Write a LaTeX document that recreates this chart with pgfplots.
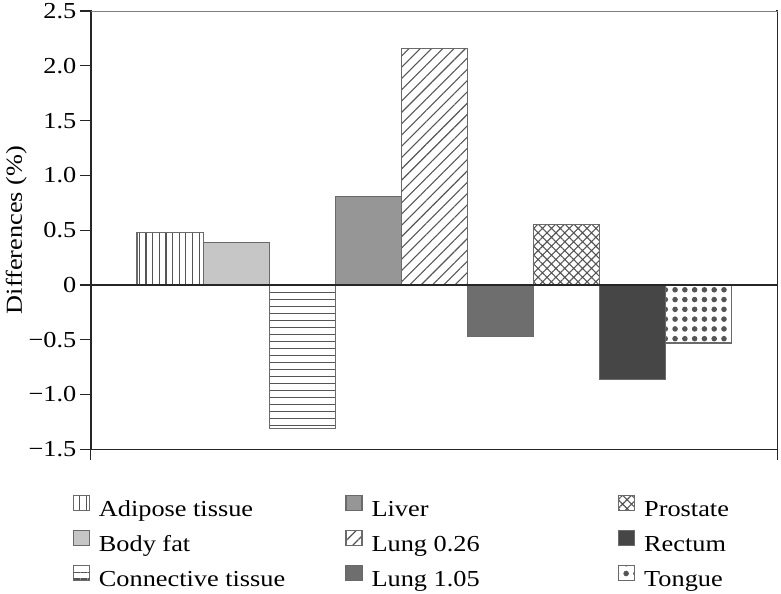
\documentclass[border=0pt]{standalone}
\usepackage{pgfplots}
\pgfplotsset{compat=1.18}
\usetikzlibrary{patterns.meta}
\usepackage{fontspec}
\setmainfont{Liberation Serif}[FakeStretch=1.15]
\definecolor{axisc}{HTML}{262626}
\definecolor{edge}{HTML}{6A6A6A}
\definecolor{patc}{HTML}{555555}
\definecolor{bodyfat}{HTML}{C6C6C6}
\definecolor{liver}{HTML}{969696}
\definecolor{lungb}{HTML}{6E6E6E}
\definecolor{rectum}{HTML}{464646}
\newcommand{\fs}{\fontsize{23}{27}\selectfont}
\newcommand{\lgt}[1]{\makebox[247bp][l]{#1}}
\newcommand{\lgs}[1]{\makebox[120bp][l]{#1}}
\begin{document}
\begin{tikzpicture}
\path (0,0) rectangle (781bp,591bp);
\begin{axis}[
  at={(91bp,144bp)}, anchor=south west,
  scale only axis, width=688bp, height=439bp,
  xmin=-0.199, xmax=10.194, ymin=-1.5, ymax=2.5,
  ybar, bar shift=0pt, bar width=1,
  clip=false,
  xtick={-0.199,10.194}, xticklabels={,},
  xtick pos=bottom, ytick pos=left,
  ytick={-1.5,-1,-0.5,0,0.5,1,1.5,2,2.5},
  yticklabels={−1.5,−1.0,−0.5,0,0.5,1.0,1.5,2.0,2.5},
  tick align=outside, major tick length=11bp,
  tick style={color=axisc, line width=1.2bp},
  axis line style={color=axisc, line width=1.6bp},
  tick label style={font=\fs},
  label style={font=\fs},
  ylabel={Differences (\%)},
  ylabel shift=-5bp,
  legend columns=3,
  legend cell align=left,
  legend image code/.code={\draw[#1] (0bp,0bp) rectangle (16bp,15bp); \path (25bp,0bp);},
  legend style={at={(-0.0262,-0.105)}, anchor=north west, draw=none, fill=none,
    inner sep=0pt, outer sep=0pt, row sep=9bp, column sep=0pt, font=\fs,
    nodes={inner sep=0pt, text height=16bp, text depth=5bp}},
]
% row 1
\addplot[draw=edge, line width=1.1bp, pattern={Lines[angle=90,distance=6.65bp,line width=1.2bp]}, pattern color=patc]
  coordinates {(1,0.48)};
\addlegendentry{\lgt{Adipose tissue}}
\addplot[draw=edge, line width=1.1bp, fill=liver]
  coordinates {(4,0.81)};
\addlegendentry{\lgt{Liver}}
\addplot[draw=edge, line width=1.1bp, pattern={Hatch[angle=45,distance=6.3bp,line width=1.1bp]}, pattern color=patc]
  coordinates {(7,0.55)};
\addlegendentry{\lgs{Prostate}}
% row 2
\addplot[draw=edge, line width=1.1bp, fill=bodyfat]
  coordinates {(2,0.39)};
\addlegendentry{\lgt{Body fat}}
\addplot[draw=edge, line width=1.1bp, pattern={Lines[angle=45,distance=8bp,line width=1.1bp]}, pattern color=patc]
  coordinates {(5,2.16)};
\addlegendentry{\lgt{Lung 0.26}}
\addplot[draw=edge, line width=1.1bp, fill=rectum]
  coordinates {(8,-0.86)};
\addlegendentry{\lgs{Rectum}}
% row 3
\addplot[draw=edge, line width=1.1bp, pattern={Lines[angle=0,distance=7bp,line width=1.2bp]}, pattern color=patc]
  coordinates {(3,-1.31)};
\addlegendentry{\lgt{Connective tissue}}
\addplot[draw=edge, line width=1.1bp, fill=lungb]
  coordinates {(6,-0.47)};
\addlegendentry{\lgt{Lung 1.05}}
\addplot[draw=edge, line width=1.1bp, pattern={Dots[distance=9.8bp,radius=2.8bp]}, pattern color=patc]
  coordinates {(9,-0.53)};
\addlegendentry{\lgs{Tongue}}
\draw[axisc, line width=1.5bp] (axis cs:-0.199,0) -- (axis cs:10.194,0);
\draw[white, line width=2bp] (rel axis cs:0.002,1) -- (rel axis cs:0.998,1);
\draw[gray, line width=1bp] (rel axis cs:0,1) -- (rel axis cs:1,1);
\end{axis}
\end{tikzpicture}
\end{document}
